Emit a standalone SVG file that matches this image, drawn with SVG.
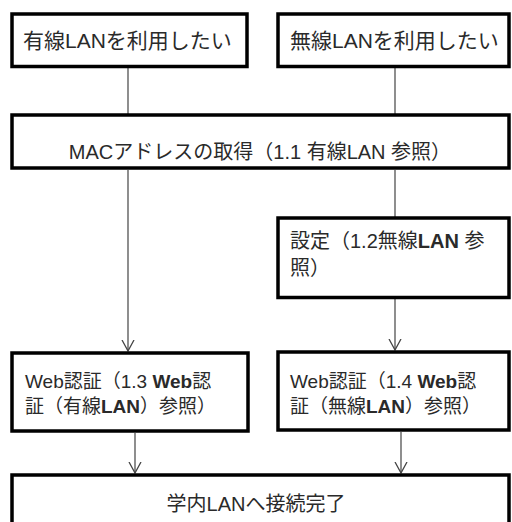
<svg xmlns="http://www.w3.org/2000/svg" width="512" height="522" viewBox="0 0 512 522">
<defs>
<style>
.box{fill:#fff;stroke:#000;stroke-width:3.5}
.t{font-family:"Liberation Sans","Noto Sans CJK JP",sans-serif;font-size:20px;fill:#2a2a2a}
.big{font-size:21px}
.sm{font-size:19px}
.b{font-weight:bold}
.c{stroke:#444;stroke-width:1.2;fill:none}
</style>
<marker id="ah" viewBox="0 -7 12 14" refX="11" refY="0" markerWidth="12" markerHeight="14" markerUnits="userSpaceOnUse" orient="auto">
<path d="M0,-6 L11,0 L0,6" fill="none" stroke="#444" stroke-width="1.3"/>
</marker>
</defs>
<rect width="512" height="522" fill="#fff"/>
<g id="connectors">
<line class="c" x1="128" y1="68" x2="128" y2="114"/>
<line class="c" x1="395" y1="68" x2="395" y2="114"/>
<line class="c" x1="128" y1="170" x2="128" y2="351" marker-end="url(#ah)"/>
<line class="c" x1="395" y1="170" x2="395" y2="217"/>
<line class="c" x1="395" y1="299" x2="395" y2="350" marker-end="url(#ah)"/>
<line class="c" x1="135" y1="433" x2="135" y2="473" marker-end="url(#ah)"/>
<line class="c" x1="401" y1="432" x2="401" y2="473" marker-end="url(#ah)"/>
</g>
<g id="wired">
<rect class="box" x="12" y="14" width="235" height="52.5"/>
<text class="t big" x="23" y="48">有線LANを利用したい</text>
</g>
<g id="wireless">
<rect class="box" x="278" y="14" width="231" height="52.5"/>
<text class="t big" x="290" y="48">無線LANを利用したい</text>
</g>
<g id="mac">
<rect class="box" x="12" y="115" width="497" height="53"/>
<text class="t" x="260" y="159" text-anchor="middle">MACアドレスの取得（1.1 有線LAN 参照）</text>
</g>
<g id="setting">
<rect class="box" x="278" y="218" width="231" height="79.5"/>
<text class="t" x="290" y="248">設定（1.2無線<tspan class="b">LAN</tspan> 参</text>
<text class="t" x="290" y="275">照）</text>
</g>
<g id="web-wired">
<rect class="box" x="12" y="353" width="236" height="78"/>
<text class="t sm" x="25" y="388">Web認証（1.3 <tspan class="b">Web</tspan>認</text>
<text class="t sm" x="25" y="413">証（有線<tspan class="b">LAN</tspan>）参照）</text>
</g>
<g id="web-wireless">
<rect class="box" x="278" y="352" width="231" height="78"/>
<text class="t sm" x="290" y="388">Web認証（1.4 <tspan class="b">Web</tspan>認</text>
<text class="t sm" x="290" y="413">証（無線<tspan class="b">LAN</tspan>）参照）</text>
</g>
<g id="done">
<rect class="box" x="12" y="475" width="497" height="60"/>
<text class="t" x="256" y="511" text-anchor="middle">学内LANへ接続完了</text>
</g>
</svg>
